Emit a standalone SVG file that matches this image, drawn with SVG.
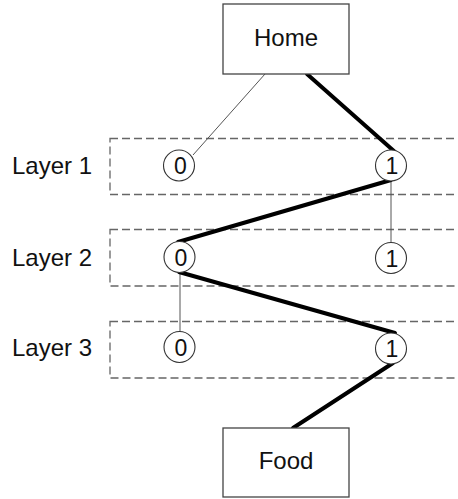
<svg xmlns="http://www.w3.org/2000/svg" width="458" height="499" viewBox="0 0 458 499">
<style>
.bg{fill:#fff}
.box{fill:#fff;stroke:#444;stroke-width:1.3}
.layer{fill:none;stroke:#666;stroke-width:1.3;stroke-dasharray:8 4}
.node{fill:#fff;stroke:#333;stroke-width:1.1}
.lbl{font-family:"Liberation Sans",Arial,sans-serif;font-size:24px;fill:#111}
.dig{font-family:"Liberation Sans",Arial,sans-serif;font-size:23px;fill:#111;text-anchor:middle}
.thin{stroke:#555;stroke-width:1;fill:none}
.thick{stroke:#000;stroke-width:4;fill:none;stroke-linecap:round}
</style>
<rect class="bg" x="0" y="0" width="458" height="499"/>
<g id="layers">
<rect class="layer" x="110" y="138.5" width="360" height="56"/>
<rect class="layer" x="110" y="229.5" width="360" height="56.5"/>
<rect class="layer" x="110" y="321.5" width="360" height="56.5"/>
<text class="lbl" x="12" y="174">Layer 1</text>
<text class="lbl" x="12" y="265.5">Layer 2</text>
<text class="lbl" x="12" y="356">Layer 3</text>
</g>
<g id="connectors">
<line class="thin" x1="265" y1="74" x2="193" y2="155"/>
<line class="thin" x1="391" y1="180" x2="391" y2="243"/>
<line class="thin" x1="180" y1="272" x2="180" y2="332"/>
<line class="thick" x1="307" y1="74" x2="395" y2="152"/>
<line class="thick" x1="391" y1="180" x2="178" y2="242"/>
<line class="thick" x1="179" y1="272" x2="395" y2="333"/>
<line class="thick" x1="393" y1="363" x2="293" y2="428"/>
</g>
<g id="home">
<rect class="box" x="223" y="4" width="126" height="70"/>
<text class="lbl" x="286" y="46" text-anchor="middle">Home</text>
</g>
<g id="food">
<rect class="box" x="223" y="428" width="126" height="69"/>
<text class="lbl" x="286" y="468.5" text-anchor="middle">Food</text>
</g>
<g id="l1n0"><circle class="node" cx="179" cy="165.5" r="15.5"/><text class="dig" x="180.5" y="174">0</text></g>
<g id="l1n1"><circle class="node" cx="391" cy="165.5" r="15.5"/><text class="dig" x="392" y="174">1</text></g>
<g id="l2n0"><circle class="node" cx="179.5" cy="257" r="15.5"/><text class="dig" x="181" y="265.5">0</text></g>
<g id="l2n1"><circle class="node" cx="391" cy="258" r="15.5"/><text class="dig" x="392" y="266.5">1</text></g>
<g id="l3n0"><circle class="node" cx="179.5" cy="347" r="15.5"/><text class="dig" x="181" y="355.5">0</text></g>
<g id="l3n1"><circle class="node" cx="391" cy="348.5" r="15.5"/><text class="dig" x="392" y="357">1</text></g>
</svg>
